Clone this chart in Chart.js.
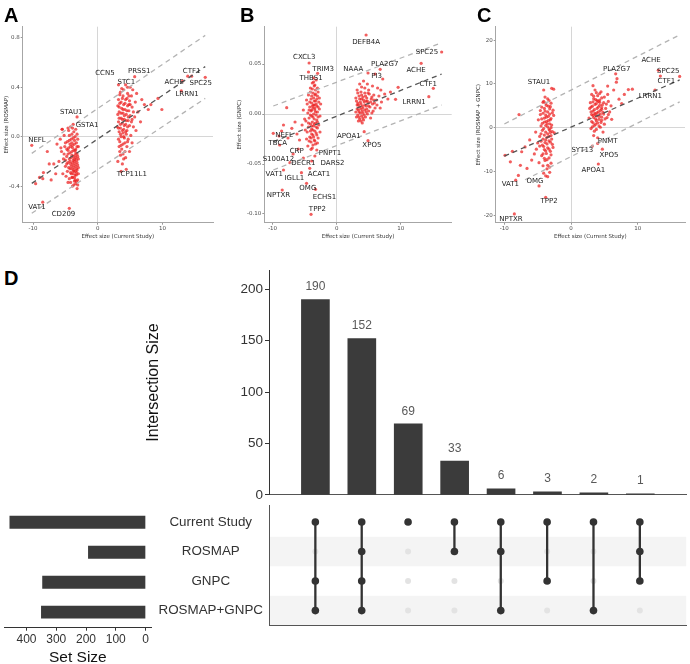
<!DOCTYPE html>
<html>
<head>
<meta charset="utf-8">
<script src="https://cdn.jsdelivr.net/npm/chart.js@4.4.1/dist/chart.umd.min.js"></script>
<style>
  html, body { margin: 0; padding: 0; background: #fff; }
  #fig { position: relative; width: 690px; height: 664px; overflow: hidden; background: #fff; }
  #fig canvas { position: absolute; }
  .tag { position: absolute; font: bold 20px "Liberation Sans", Arial, sans-serif; color: #000; line-height: 1; }
</style>
</head>
<body>
<div id="fig">
  <canvas id="scA" width="228" height="245" style="left:0;top:0"></canvas>
  <canvas id="scB" width="230" height="245" style="left:228px;top:0"></canvas>
  <canvas id="scC" width="230" height="245" style="left:460px;top:0"></canvas>
  <canvas id="upBars" width="550" height="245" style="left:140px;top:260px"></canvas>
  <canvas id="upMatrix" width="540" height="150" style="left:150px;top:490px"></canvas>
  <canvas id="upSets" width="160" height="185" style="left:0;top:490px"></canvas>
  <div class="tag" style="left:4px;top:5px">A</div>
  <div class="tag" style="left:240px;top:5px">B</div>
  <div class="tag" style="left:477px;top:5px">C</div>
  <div class="tag" style="left:4px;top:268px">D</div>
</div>
<script>
// ---- panel A : current study vs ROSMAP ----
const aPoints = [
  [-3.2,-0.42],[-3.4,-0.38],[-3.1,-0.35],[-3.6,-0.33],[-3.3,-0.31],[-3.8,-0.30],[-3.5,-0.28],[-3.2,-0.27],
  [-4.0,-0.26],[-3.7,-0.25],[-3.4,-0.24],[-3.1,-0.23],[-4.2,-0.22],[-3.9,-0.21],[-3.6,-0.20],[-3.3,-0.19],
  [-3.0,-0.18],[-4.4,-0.18],[-4.1,-0.17],[-3.8,-0.16],[-3.5,-0.15],[-3.2,-0.14],[-4.6,-0.14],[-4.3,-0.13],
  [-4.0,-0.12],[-3.7,-0.11],[-3.4,-0.10],[-4.8,-0.10],[-4.5,-0.09],[-4.2,-0.08],[-3.9,-0.07],[-3.6,-0.06],
  [-3.3,-0.05],[-5.0,-0.05],[-4.7,-0.04],[-4.4,-0.03],[-4.1,-0.02],[-3.8,-0.01],[-3.5,0.00],[-5.2,0.01],
  [-4.0,0.02],[-3.7,0.04],[-4.5,0.05],[-3.4,0.06],[-5.5,0.06],[-4.2,0.08],[-3.6,-0.36],[-4.1,-0.30],
  [-4.4,-0.34],[-4.7,-0.28],[-3.9,-0.40],[-4.2,-0.37],[-5.0,-0.24],[-5.3,-0.18],[-4.9,-0.32],[-3.0,-0.30],
  [-3.0,-0.08],[-3.1,-0.02],[-4.6,-0.21],[-4.3,-0.26],[-5.6,-0.12],[-5.8,-0.02],[-6.0,-0.20],[-5.4,-0.30],
  [-4.0,-0.33],[-3.5,-0.22],[-3.8,-0.28],[-3.3,-0.26],[-4.8,-0.16],[-5.1,-0.08],
  [-3.1,-0.39],[-3.5,-0.35],[-3.9,-0.33],[-3.3,-0.29],[-3.7,-0.27],[-4.1,-0.24],[-3.2,-0.21],[-3.6,-0.18],
  [-4.0,-0.15],[-3.4,-0.13],[-3.8,-0.19],[-4.3,-0.20],[-3.1,-0.16],[-3.5,-0.11],[-3.9,-0.09],[-4.3,-0.06],
  [-3.2,-0.08],[-3.6,-0.03],[-4.0,-0.05],[-4.6,-0.11],[-3.3,-0.36],[-3.7,-0.39],[-4.5,-0.25],[-4.8,-0.22],
  [-5.2,-0.14],[-3.4,-0.17],[-3.0,-0.25],[-3.8,-0.23],[-4.2,-0.29],[-3.5,-0.31],[-4.6,-0.37],[-3.2,0.02],
  [-3.9,0.07],[-4.4,0.01],[-5.0,-0.19],
  [-10.2,-0.07],[-8.5,-0.53],[-4.4,-0.58],[-3.2,0.16],[-3.8,0.10],[-8.4,-0.29],[-6.8,-0.22],[-7.5,-0.22],
  [-5.7,-0.09],[-9.6,-0.38],[-8.5,-0.34],[-7.2,-0.35],[-5.5,0.06],[-6.3,-0.06],[-4.6,0.07],[-7.8,-0.12],
  [-6.5,-0.30],[-9.0,-0.33],
  [3.5,0.36],[4.0,0.38],[4.6,0.35],[5.2,0.33],[3.8,0.31],[4.3,0.30],[4.9,0.29],[3.4,0.27],
  [4.0,0.26],[4.6,0.25],[5.3,0.24],[3.7,0.23],[4.2,0.22],[4.8,0.21],[3.3,0.20],[3.9,0.19],
  [4.4,0.18],[5.0,0.17],[5.7,0.16],[3.6,0.15],[4.1,0.14],[4.7,0.13],[3.2,0.12],[3.8,0.11],
  [4.3,0.10],[4.9,0.09],[5.5,0.08],[3.5,0.07],[4.0,0.06],[4.5,0.05],[3.3,0.04],[3.9,0.03],
  [4.4,0.02],[5.1,0.01],[3.6,0.00],[4.1,-0.01],[4.7,-0.02],[3.4,-0.04],[3.9,-0.06],[4.5,-0.08],
  [3.7,-0.10],[4.2,-0.12],[3.5,-0.15],[4.0,-0.18],[3.8,-0.22],[4.4,-0.264],[3.6,-0.28],[5.8,0.28],
  [6.2,0.20],[6.6,0.12],[5.4,0.38],[6.0,0.35],[5.7,0.486],[5.0,0.40],[7.2,0.26],[7.8,0.22],
  [6.8,0.30],[3.2,0.30],[3.1,0.18],[3.0,0.08],[3.2,-0.02],[4.8,0.33],[4.3,0.42],[5.9,0.05],
  [5.3,-0.05],[4.9,-0.12],[3.3,-0.08],[3.1,-0.20],
  [3.4,0.34],[3.9,0.33],[4.5,0.31],[3.6,0.28],[4.2,0.27],[4.8,0.26],[3.3,0.24],[3.9,0.22],
  [4.5,0.21],[3.6,0.19],[4.1,0.17],[4.7,0.16],[3.3,0.15],[3.8,0.14],[4.4,0.13],[5.2,0.12],
  [3.5,0.10],[4.1,0.09],[4.6,0.08],[3.2,0.07],[3.8,0.05],[4.3,0.04],[3.5,0.02],[4.0,0.00],
  [4.6,-0.04],[3.6,-0.07],[4.2,-0.05],[3.4,-0.12],[3.9,-0.14],[4.3,-0.17],[5.5,0.20],[5.0,0.26],
  [3.7,0.39],[4.6,0.40],[5.3,0.14],[3.1,0.25],
  [3.2,0.42],[13.9,0.49],[13.1,0.45],[16.6,0.48],[12.9,0.37],[9.9,0.22],[9.3,0.31],[14.5,0.49],[8.2,0.26]
];
const aFitX = [-10.2, 16.6];
const aFitY = [-0.378, 0.567];
const aUpperY = [-0.135, 0.82];
const aLowerY = [-0.62, 0.31];
const aGenes = ['NEFL','VAT1','CD209','STAU1','GSTA1','CCN5','STC1','PRSS1','CTF1','ACHE','SPC25','LRRN1','TCP11L1'];
const aGeneX = [-9.4, -9.4, -5.3, -4.1, -1.65, 1.1, 4.4, 6.4, 14.5, 11.8, 15.9, 13.8, 5.25];
const aGeneY = [-0.027, -0.57, -0.626, 0.195, 0.095, 0.51, 0.44, 0.53, 0.53, 0.445, 0.43, 0.34, -0.30];
const aTicksX = [-10, 0, 10];
const aTicksY = [-0.4, 0, 0.4, 0.8];

// ---- panel B : current study vs GNPC ----
const bPoints = [
  [-3.2,0.034],[-3.8,0.031],[-3.5,0.028],[-4.1,0.026],[-3.3,0.024],[-2.9,0.022],[-3.7,0.021],[-4.4,0.019],
  [-3.0,0.018],[-3.6,0.016],[-4.0,0.015],[-3.3,0.013],[-2.8,0.012],[-3.9,0.011],[-4.6,0.010],[-3.5,0.009],
  [-3.1,0.008],[-4.2,0.007],[-3.7,0.006],[-2.7,0.005],[-3.4,0.004],[-4.0,0.003],[-3.0,0.002],[-4.5,0.001],
  [-3.6,0.000],[-3.2,-0.001],[-3.9,-0.002],[-2.9,-0.003],[-4.3,-0.004],[-3.5,-0.005],[-3.1,-0.006],[-4.8,-0.007],
  [-3.8,-0.008],[-3.3,-0.009],[-4.1,-0.010],[-2.8,-0.011],[-3.6,-0.012],[-4.4,-0.013],[-3.0,-0.014],[-3.9,-0.015],
  [-3.4,-0.017],[-4.6,-0.018],[-3.2,-0.019],[-3.7,-0.021],[-4.2,-0.023],[-2.9,-0.024],[-3.5,-0.026],[-4.0,-0.028],
  [-3.3,-0.030],[-4.5,-0.032],[-3.8,-0.034],[-3.1,-0.036],[-5.0,-0.005],[-5.2,0.004],[-4.9,-0.016],[-5.4,-0.011],
  [-4.7,0.014],[-2.6,-0.002],[-2.5,0.010],[-2.6,-0.018],[-3.4,0.019],[-4.3,-0.027],[-3.6,0.009],[-3.9,-0.020],
  [-3.0,-0.029],[-4.1,0.022],
  [-3.4,0.029],[-3.0,0.026],[-3.8,0.025],[-3.3,0.020],[-3.9,0.018],[-3.1,0.015],[-3.5,0.013],[-4.2,0.012],
  [-3.2,0.010],[-3.8,0.008],[-3.4,0.006],[-2.9,0.007],[-3.9,0.004],[-3.3,0.002],[-4.1,-0.001],[-3.7,-0.003],
  [-3.0,-0.008],[-3.5,-0.010],[-3.9,-0.012],[-3.2,-0.013],[-3.7,-0.016],[-4.1,-0.017],[-3.1,-0.021],[-3.6,-0.023],
  [-4.0,-0.024],[-3.4,-0.027],[-3.7,-0.031],[-4.3,0.004],[-4.4,-0.009],[-2.7,0.016],[-3.6,0.032],[-4.7,-0.025],
  [-4.3,0.051],[-2.97,0.0407],[-4.4,0.042],[-3.6,0.036],[-9.9,-0.0193],[-7.8,0.0063],[-8.9,-0.031],[-6.0,-0.035],
  [-4.0,-0.0353],[-6.8,-0.040],[-3.4,-0.042],[-8.3,-0.056],[-7.3,-0.0487],[-4.2,-0.0543],[-4.7,-0.0693],[-5.5,-0.0587],
  [-3.3,-0.0753],[-8.5,-0.076],[-4.0,-0.1003],[-8.3,-0.011],[-7.0,-0.0143],[-6.5,-0.008],[-8.6,-0.017],[-9.0,-0.022],
  [-5.8,-0.026],[-7.6,-0.024],[-3.9,-0.047],[-5.2,-0.044],[-6.2,-0.020],
  [3.2,0.024],[3.8,0.022],[4.4,0.021],[5.1,0.020],[5.8,0.019],[3.5,0.018],[4.1,0.017],[4.7,0.016],
  [5.4,0.015],[6.2,0.014],[3.1,0.013],[3.7,0.012],[4.3,0.012],[4.9,0.011],[5.6,0.010],[3.4,0.009],
  [4.0,0.008],[4.6,0.008],[5.2,0.007],[6.0,0.006],[3.2,0.005],[3.8,0.005],[4.4,0.004],[5.0,0.003],
  [5.7,0.003],[3.5,0.002],[4.1,0.001],[4.8,0.000],[3.3,-0.001],[3.9,-0.002],[4.5,-0.003],[5.3,-0.004],
  [3.6,-0.005],[4.2,-0.006],[3.4,-0.007],[4.0,-0.009],[6.6,0.018],[7.0,0.012],[7.5,0.020],[8.0,0.015],
  [6.4,0.026],[5.6,0.028],[4.8,0.030],[4.2,0.033],[3.6,0.030],[6.9,0.024],[8.4,0.022],[5.0,0.024],
  [3.0,0.016],[3.1,-0.003],[4.6,0.013],[3.9,0.015],[5.9,0.011],[6.8,0.006],[5.5,0.001],
  [3.3,0.021],[3.9,0.019],[4.5,0.018],[3.6,0.015],[4.2,0.014],[4.8,0.013],[3.3,0.011],[3.8,0.010],
  [4.4,0.009],[5.0,0.008],[3.6,0.007],[4.1,0.006],[4.7,0.005],[3.4,0.004],[4.0,0.003],[4.6,0.002],
  [3.7,0.001],[4.3,-0.001],[3.5,-0.003],[4.1,-0.004],[3.8,-0.007],[5.3,0.012],[5.5,0.017],[4.9,0.021],
  [4.4,0.026],[3.9,0.027],[6.3,0.009],[5.8,0.014],[3.2,0.009],[3.0,0.002],
  [4.6,0.079],[16.4,0.062],[6.8,0.0447],[4.9,0.041],[13.2,0.0507],[15.1,0.0257],[14.4,0.0173],[9.6,0.0267],
  [9.2,0.0147],[4.3,-0.0177],[4.9,-0.0267],[6.0,0.040],[7.2,0.035]
];
const bFitX = [-9.9, 16.4];
const bFitY = [-0.0277, 0.040];
const bUpperY = [0.008, 0.0713];
const bLowerY = [-0.056, 0.009];
const bGenes = ['DEFB4A','CXCL3','TRIM3','THBS1','NAAA','PLA2G7','PI3','SPC25','ACHE','CTF1','LRRN1','NEFL','TBCA',
  'CRP','PNPT1','S100A12','DECR1','DARS2','APOA1','XPO5','VAT1','IGLL1','ACAT1','OMG','ECHS1','NPTXR','TPP2'];
const bGeneX = [4.6, -5.06, -2.1, -4.0, 2.6, 7.5, 6.25, 14.1, 12.4, 14.3, 12.1, -8.2, -9.2,
  -6.25, -1.05, -9.1, -5.2, -0.65, 1.9, 5.5, -9.75, -6.6, -2.75, -4.5, -1.9, -9.1, -3.0];
const bGeneY = [0.072, 0.057, 0.045, 0.036, 0.045, 0.050, 0.038, 0.062, 0.044, 0.030, 0.0123, -0.021, -0.0287,
  -0.0367, -0.0387, -0.045, -0.0493, -0.0493, -0.022, -0.031, -0.060, -0.0643, -0.060, -0.0743, -0.0827, -0.081, -0.0953];
const bTicksX = [-10, 0, 10];
const bTicksY = [-0.10, -0.05, 0, 0.05];

// ---- panel C : current study vs ROSMAP + GNPC ----
const cPoints = [
  [-3.5,6.6],[-4.1,6.0],[-3.0,5.6],[-3.7,5.1],[-4.4,4.7],[-3.2,4.3],[-3.9,3.8],[-2.8,3.4],
  [-4.6,3.0],[-3.4,2.6],[-4.0,2.2],[-3.1,1.8],[-3.7,1.4],[-4.3,1.0],[-2.9,0.6],[-3.5,0.2],
  [-4.1,-0.2],[-3.2,-0.6],[-3.8,-1.0],[-4.5,-1.4],[-3.0,-1.8],[-3.6,-2.2],[-4.2,-2.6],[-3.3,-3.0],
  [-3.9,-3.4],[-2.8,-3.8],[-4.7,-4.2],[-3.5,-4.6],[-4.0,-5.0],[-3.1,-5.4],[-3.7,-5.9],[-4.4,-6.4],
  [-3.3,-6.9],[-3.9,-7.5],[-3.0,-8.1],[-4.2,-8.7],[-3.6,-9.4],[-3.2,-10.2],[-3.8,-11.0],[-5.0,-3.5],
  [-5.3,-1.0],[-4.9,1.8],[-5.5,-6.0],[-4.8,-8.0],[-2.6,2.8],[-2.5,-1.2],[-2.7,-4.5],[-3.4,4.9],
  [-4.6,3.9],[-3.1,-1.1],[-3.8,2.9],[-4.3,-4.0],[-2.9,-2.6],[-3.6,0.9],[-4.0,-7.0],[-3.3,-0.3],
  [-4.5,0.4],[-2.7,4.0],[-3.5,-8.6],[-5.2,-4.9],[-4.2,5.8],
  [-3.3,6.2],[-3.8,5.6],[-3.1,4.8],[-4.0,4.4],[-3.5,3.6],[-4.2,3.3],[-3.2,3.1],[-3.7,2.4],
  [-3.0,2.1],[-4.4,2.0],[-3.4,1.6],[-4.0,1.3],[-3.2,0.9],[-3.8,0.5],[-3.0,0.0],[-4.3,-0.6],
  [-3.5,-1.4],[-4.0,-1.7],[-3.3,-2.0],[-3.8,-2.8],[-3.1,-3.3],[-4.5,-3.1],[-3.6,-3.7],[-4.1,-4.3],
  [-3.3,-4.9],[-3.8,-5.3],[-3.0,-6.2],[-4.2,-6.0],[-3.6,-7.3],[-3.2,-9.0],[-4.1,-10.4],[-3.5,-11.2],
  [-4.7,-2.0],[-2.8,-0.9],[-3.9,7.0],
  [-4.1,8.6],[-2.9,8.99],[-2.6,8.8],[-7.9,-10.9],[-8.3,-12.0],[-4.8,-13.3],[-3.8,-15.9],[-8.5,-19.7],
  [-9.9,-6.3],[-7.4,-5.5],[-6.9,-4.4],[-9.1,-7.8],[-7.6,-8.6],[-6.6,-9.3],[-7.8,3.0],[-8.8,-5.4],
  [-6.2,-2.8],[-5.9,-7.4],
  [3.6,8.6],[4.5,8.2],[3.1,7.6],[4.0,7.3],[5.0,7.0],[3.4,6.6],[4.3,6.3],[5.6,6.0],
  [2.9,5.7],[3.8,5.5],[4.7,5.2],[3.2,4.9],[4.1,4.7],[5.2,4.4],[3.5,4.1],[4.4,3.9],
  [3.0,3.6],[3.9,3.4],[4.9,3.1],[3.3,2.8],[4.2,2.6],[5.4,2.3],[3.7,2.0],[4.6,1.7],
  [3.1,1.4],[4.0,1.1],[5.0,0.8],[3.5,0.5],[4.4,0.1],[3.8,-0.4],[4.8,-1.0],[6.0,5.0],
  [5.8,3.6],[6.1,1.9],[3.0,-0.2],[3.6,3.0],[4.3,5.8],[5.5,7.6],[2.7,2.2],[3.4,-1.8],
  [4.6,4.6],[3.9,6.2],[5.1,2.0],[4.0,-2.3],[3.2,0.2],
  [3.8,8.0],[4.3,7.8],[3.4,7.2],[4.6,6.8],[3.7,6.4],[4.1,6.0],[3.3,5.9],[4.9,5.7],
  [3.6,5.3],[4.3,5.1],[3.0,4.7],[3.9,4.4],[4.6,4.2],[3.3,3.8],[4.1,3.6],[4.8,3.5],
  [3.6,3.3],[4.4,3.1],[3.1,3.0],[3.9,2.7],[4.6,2.4],[3.4,2.3],[4.2,1.9],[3.8,1.6],
  [3.3,1.1],[4.5,1.2],[3.7,0.8],[4.2,0.4],[3.5,-0.8],[5.3,5.4],[5.6,3.0],[2.8,4.4],
  [6.7,12.3],[6.9,11.2],[6.8,10.4],[13.1,13.1],[16.3,11.7],[13.4,11.8],[12.6,8.6],[9.2,8.8],
  [8.6,8.7],[4.0,-3.6],[3.2,-4.2],[4.7,-4.9],[4.1,-8.3],[7.2,6.5],[8.0,7.6],[6.4,8.6],
  [7.6,5.5],[5.5,9.5],[3.3,9.6]
];
const cFitX = [-10, 16.3];
const cFitY = [-6.5, 10.9];
const cUpperY = [0.85, 21.2];
const cLowerX = [-6.9, 16.3];
const cLowerY = [-11.9, 5.9];
const cGenes = ['STAU1','PLA2G7','ACHE','SPC25','CTF1','LRRN1','PNMT','SYT13','XPO5','APOA1','VAT1','OMG','TPP2','NPTXR'];
const cGeneX = [-4.8, 6.85, 12.0, 14.6, 14.3, 11.9, 5.5, 1.7, 5.7, 3.35, -9.1, -5.4, -3.3, -9.0];
const cGeneY = [10.5, 13.4, 15.3, 13.0, 10.7, 7.1, -3.0, -5.25, -6.2, -9.8, -12.9, -12.3, -16.9, -20.9];
const cTicksX = [-10, 0, 10];
const cTicksY = [-20, -10, 0, 10, 20];

// ---- panel D : UpSet ----
const setNames = ['Current Study', 'ROSMAP', 'GNPC', 'ROSMAP+GNPC'];
const setSizes = [456, 192, 346, 350];
const intersectionSizes = [190, 152, 69, 33, 6, 3, 2, 1];
// membership per intersection, in setNames order
const membership = [
  [1, 0, 1, 1],
  [1, 1, 1, 1],
  [1, 0, 0, 0],
  [1, 1, 0, 0],
  [1, 1, 0, 1],
  [1, 0, 1, 0],
  [1, 0, 0, 1],
  [1, 1, 1, 0]
];
const barTicks = [0, 50, 100, 150, 200];
const setTicks = [0, 100, 200, 300, 400];

const SCATTER_FONT = '"DejaVu Sans", sans-serif';
const UPSET_FONT = '"Liberation Sans", Arial, sans-serif';

const toXY = (xs, ys) => xs.map((x, i) => ({ x, y: ys[i] }));

// gene name labels drawn at data coordinates
const geneLabels = {
  id: 'geneLabels',
  afterDatasetsDraw(chart, args, opts) {
    if (!opts.names) return;
    const { ctx, scales: { x, y } } = chart;
    ctx.save();
    ctx.font = '7px ' + SCATTER_FONT;
    ctx.fillStyle = '#222';
    ctx.textAlign = 'center';
    ctx.textBaseline = 'middle';
    opts.names.forEach((n, i) => {
      ctx.fillText(n, x.getPixelForValue(opts.xs[i]), y.getPixelForValue(opts.ys[i]));
    });
    ctx.restore();
  }
};

const effectPlot = (id, p) => {
  const dash = (data, color) => ({
    type: 'line', data, showLine: true, borderColor: color, borderWidth: 1.3,
    borderDash: [5, 4], pointRadius: 0, fill: false, order: 1
  });
  const axisCommon = (ticks, fmt) => ({
    type: 'linear',
    afterBuildTicks: (s) => { s.ticks = ticks.map((v) => ({ value: v })); },
    ticks: { font: { size: 5.5, family: SCATTER_FONT }, color: '#4d4d4d', padding: 1, callback: fmt },
    grid: {
      color: (c) => (c.tick && c.tick.value === 0 ? '#d6d6d6' : 'rgba(0,0,0,0)'),
      tickColor: '#999', tickLength: 2, lineWidth: 1
    },
    border: { color: '#a6a6a6', width: 1 }
  });
  return new Chart(document.getElementById(id), {
    type: 'scatter',
    data: {
      datasets: [
        {
          data: p.points.map(([x, y]) => ({ x, y })), pointRadius: 1.6, pointHoverRadius: 1.6,
          backgroundColor: 'rgba(236,32,32,0.72)', borderWidth: 0, order: 2
        },
        dash(toXY(p.fitX, p.fitY), '#555'),
        dash(toXY(p.upperX || p.fitX, p.upperY), '#b3b3b3'),
        dash(toXY(p.lowerX || p.fitX, p.lowerY), '#b3b3b3')
      ]
    },
    options: {
      responsive: false,
      animation: false,
      layout: { padding: { top: 26.7, right: p.padRight, left: 0, bottom: 0 } },
      plugins: {
        legend: { display: false },
        tooltip: { enabled: false },
        geneLabels: { names: p.genes, xs: p.geneX, ys: p.geneY }
      },
      scales: {
        x: {
          ...axisCommon(p.ticksX, (v) => String(v)),
          min: p.xMin, max: p.xMax, position: 'bottom',
          title: {
            display: true, text: 'Effect size (Current Study)', color: '#333',
            font: { size: 5.5, family: SCATTER_FONT }, padding: { top: 0, bottom: 5.2 }
          },
          afterFit: (s) => { s.height = 22.3; }
        },
        y: {
          ...axisCommon(p.ticksY, p.yFmt),
          min: p.yMin, max: p.yMax, position: 'left',
          title: {
            display: true, text: p.yTitle, color: '#333',
            font: { size: 5.5, family: SCATTER_FONT }, padding: { top: p.yTitlePad, bottom: 0 }
          },
          afterFit: (s) => { s.width = p.yWidth; }
        }
      }
    },
    plugins: [geneLabels]
  });
};

effectPlot('scA', {
  points: aPoints, fitX: aFitX, fitY: aFitY, upperY: aUpperY, lowerY: aLowerY,
  genes: aGenes, geneX: aGeneX, geneY: aGeneY, ticksX: aTicksX, ticksY: aTicksY,
  xMin: -11.6, xMax: 17.8, yMin: -0.696, yMax: 0.89, yWidth: 22.7, padRight: 15,
  yTitle: 'Effect size (ROSMAP)', yTitlePad: 3.7, yFmt: (v) => v.toFixed(1)
});
effectPlot('scB', {
  points: bPoints, fitX: bFitX, fitY: bFitY, upperY: bUpperY, lowerY: bLowerY,
  genes: bGenes, geneX: bGeneX, geneY: bGeneY, ticksX: bTicksX, ticksY: bTicksY,
  xMin: -11.3, xMax: 17.97, yMin: -0.1087, yMax: 0.0873, yWidth: 36.3, padRight: 6.3,
  yTitle: 'Effect size (GNPC)', yTitlePad: 8.7, yFmt: (v) => v.toFixed(2)
});
effectPlot('scC', {
  points: cPoints, fitX: cFitX, fitY: cFitY, upperY: cUpperY, lowerX: cLowerX, lowerY: cLowerY,
  genes: cGenes, geneX: cGeneX, geneY: cGeneY, ticksX: cTicksX, ticksY: cTicksY,
  xMin: -11.3, xMax: 17.1, yMin: -21.7, yMax: 23.06, yWidth: 35.7, padRight: 5,
  yTitle: 'Effect size (ROSMAP + GNPC)', yTitlePad: 15.7, yFmt: (v) => String(v)
});

// intersection size bars
const barValueLabels = {
  id: 'barValueLabels',
  afterDatasetsDraw(chart) {
    const { ctx } = chart;
    ctx.save();
    ctx.font = '12px ' + UPSET_FONT;
    ctx.fillStyle = '#595959';
    ctx.textAlign = 'center';
    ctx.textBaseline = 'middle';
    chart.getDatasetMeta(0).data.forEach((bar, i) => {
      ctx.fillText(String(intersectionSizes[i]), bar.x, bar.y - 12.7);
    });
    ctx.restore();
  }
};

new Chart(document.getElementById('upBars'), {
  type: 'bar',
  data: {
    datasets: [{
      data: intersectionSizes.map((v, i) => ({ x: i + 1, y: v })),
      backgroundColor: '#3b3b3b', barThickness: 28
    }]
  },
  options: {
    responsive: false,
    animation: false,
    layout: { padding: { top: 9, right: 3.3, left: 0, bottom: 0 } },
    plugins: { legend: { display: false }, tooltip: { enabled: false } },
    scales: {
      x: {
        type: 'linear', min: 0, max: 9, offset: false,
        ticks: { display: false }, grid: { display: false, drawTicks: false },
        border: { color: '#555', width: 1 },
        afterFit: (s) => { s.height = 0; }
      },
      y: {
        min: 0, max: 218.6,
        afterBuildTicks: (s) => { s.ticks = barTicks.map((v) => ({ value: v })); },
        ticks: { font: { size: 13.5, family: UPSET_FONT }, color: '#333', padding: 2 },
        grid: { drawOnChartArea: false, tickLength: 4, tickColor: '#333' },
        border: { color: '#333', width: 1 },
        title: {
          display: true, text: 'Intersection Size', color: '#111',
          font: { size: 16, family: UPSET_FONT }, padding: { top: 3.5, bottom: 0 }
        },
        afterFit: (s) => { s.width = 129; }
      }
    }
  },
  plugins: [barValueLabels]
});

// dot matrix
const stripeRows = [2, 4];
const matrixStripes = {
  id: 'matrixStripes',
  beforeDraw(chart) {
    const { ctx, chartArea, scales: { y } } = chart;
    ctx.save();
    ctx.fillStyle = '#f4f4f4';
    stripeRows.forEach((r) => {
      const top = y.getPixelForValue(r - 0.5);
      const bottom = r === setNames.length ? chartArea.bottom : y.getPixelForValue(r + 0.5);
      ctx.fillRect(chartArea.left, top, chartArea.right - chartArea.left, bottom - top);
    });
    ctx.restore();
  }
};

const activeDots = [];
const inactiveDots = [];
const linkLines = [];
membership.forEach((m, i) => {
  const rows = [];
  m.forEach((on, r) => {
    (on ? activeDots : inactiveDots).push({ x: i + 1, y: r + 1 });
    if (on) rows.push(r + 1);
  });
  if (rows.length > 1) {
    linkLines.push({
      type: 'line', data: [{ x: i + 1, y: Math.min(...rows) }, { x: i + 1, y: Math.max(...rows) }],
      showLine: true, borderColor: '#333', borderWidth: 2.3, pointRadius: 0, order: 1
    });
  }
});

new Chart(document.getElementById('upMatrix'), {
  type: 'scatter',
  data: {
    datasets: [
      { data: activeDots, pointRadius: 3.8, pointHoverRadius: 3.8, backgroundColor: '#333', borderWidth: 0, order: 0 },
      ...linkLines,
      { data: inactiveDots, pointRadius: 3, pointHoverRadius: 3, backgroundColor: '#e3e3e3', borderWidth: 0, order: 2 }
    ]
  },
  options: {
    responsive: false,
    animation: false,
    layout: { padding: { top: 15, right: 3.3, left: 0, bottom: 0 } },
    plugins: { legend: { display: false }, tooltip: { enabled: false } },
    scales: {
      x: {
        type: 'linear', min: 0, max: 9,
        ticks: { display: false }, grid: { display: false, drawTicks: false },
        border: { color: '#555', width: 1 },
        afterFit: (s) => { s.height = 11.7; }
      },
      y: {
        type: 'linear', min: 0.425, max: 4.52, reverse: true,
        afterBuildTicks: (s) => { s.ticks = setNames.map((n, i) => ({ value: i + 1 })); },
        ticks: {
          font: { size: 13.4, family: UPSET_FONT }, color: '#333', padding: 6, crossAlign: 'center',
          callback: (v) => setNames[v - 1]
        },
        grid: { display: false, drawTicks: false },
        border: { color: '#555', width: 1 },
        afterFit: (s) => { s.width = 119; }
      }
    }
  },
  plugins: [matrixStripes]
});

// set size bars
new Chart(document.getElementById('upSets'), {
  type: 'bar',
  data: {
    datasets: [{
      data: setSizes.map((v, i) => ({ x: v, y: i + 1 })),
      backgroundColor: '#3b3b3b', barThickness: 12.3
    }]
  },
  options: {
    indexAxis: 'y',
    responsive: false,
    animation: false,
    layout: { padding: { top: 15, right: 8.3, left: 4, bottom: 0 } },
    plugins: { legend: { display: false }, tooltip: { enabled: false } },
    scales: {
      y: { type: 'linear', min: 0.425, max: 4.52, reverse: true, offset: false, display: false },
      x: {
        type: 'linear', min: -20.8, max: 475.6, reverse: true,
        afterBuildTicks: (s) => { s.ticks = setTicks.map((v) => ({ value: v })); },
        ticks: { font: { size: 12, family: UPSET_FONT }, color: '#333', padding: 2 },
        grid: { drawOnChartArea: false, tickLength: 3, tickColor: '#333' },
        border: { color: '#333', width: 1 },
        title: {
          display: true, text: 'Set Size', color: '#111',
          font: { size: 15.5, family: UPSET_FONT }, padding: { top: 0, bottom: 8 }
        },
        afterFit: (s) => { s.height = 47.3; }
      }
    }
  }
});
</script>
</body>
</html>
